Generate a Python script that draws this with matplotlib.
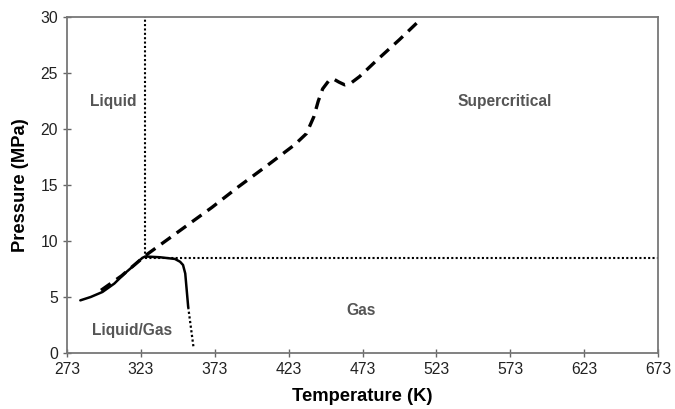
import matplotlib
matplotlib.use("Agg")
import matplotlib.pyplot as plt

plt.rcParams['font.family'] = ['Liberation Sans', 'DejaVu Sans']

# Data
x_ticks = [273, 323, 373, 423, 473, 523, 573, 623, 673]
y_ticks = [0, 5, 10, 15, 20, 25, 30]

crit_T = 326
crit_P = 8.5

solid_T = [282, 289, 297, 305, 312, 319, 324, 326, 336, 346, 349.5, 351.5, 353, 354, 355]
solid_P = [4.7, 5.0, 5.45, 6.2, 7.1, 7.9, 8.5, 8.62, 8.55, 8.4, 8.15, 7.86, 7.1, 5.6, 4.1]

tail_T = [355, 358.5]
tail_P = [4.1, 0.6]

dash_T = [296, 310, 326, 348, 371, 389, 409, 427, 435, 440, 443, 446, 450, 453, 457,
          461, 465, 471, 483, 498, 513]
dash_P = [5.6, 6.9, 8.7, 10.8, 13.0, 14.85, 16.8, 18.6, 19.6, 21.1, 22.5, 23.6, 24.3,
          24.5, 24.2, 23.95, 24.1, 24.7, 26.2, 28.0, 29.9]

regions = ["Liquid", "Supercritical", "Gas", "Liquid/Gas"]
region_T = [304, 569, 472, 317]
region_P = [22.5, 22.5, 3.75, 2.0]

fig = plt.figure(figsize=(6.75, 4.09), dpi=100)
ax = fig.add_axes([0.0993, 0.137, 0.8757, 0.821])

ax.plot([crit_T, crit_T], [crit_P, 30], color='black', lw=1.5, linestyle=(0, (1, 1.1)))
ax.plot([crit_T, 673], [crit_P, crit_P], color='black', lw=1.5, linestyle=(0, (1, 1.1)))
ax.plot(solid_T, solid_P, color='black', lw=1.8, solid_capstyle='round')
ax.plot(tail_T, tail_P, color='black', lw=1.6, linestyle=(0, (1, 1.1)))
ax.plot(dash_T, dash_P, color='black', lw=2.4, linestyle=(0, (3.5, 2.2)))

for lab, tx, py in zip(regions, region_T, region_P):
    ax.text(tx, py, lab, ha='center', va='center', fontsize=11.2,
            fontweight='bold', color='#555555')

ax.set_xlim(273, 673)
ax.set_ylim(0, 30)
ax.set_xticks(x_ticks)
ax.set_yticks(y_ticks)
ax.tick_params(axis='both', direction='inout', length=6, width=1, color='#666666',
               labelsize=11.3, labelcolor='#222222')
for s in ax.spines.values():
    s.set_color('#777777')
    s.set_linewidth(1.3)

ax.set_xlabel("Temperature (K)", fontsize=13.2, fontweight='bold', labelpad=8)
ax.set_ylabel("Pressure (MPa)", fontsize=13.2, fontweight='bold', labelpad=8)

fig.savefig("out.png", dpi=100)
